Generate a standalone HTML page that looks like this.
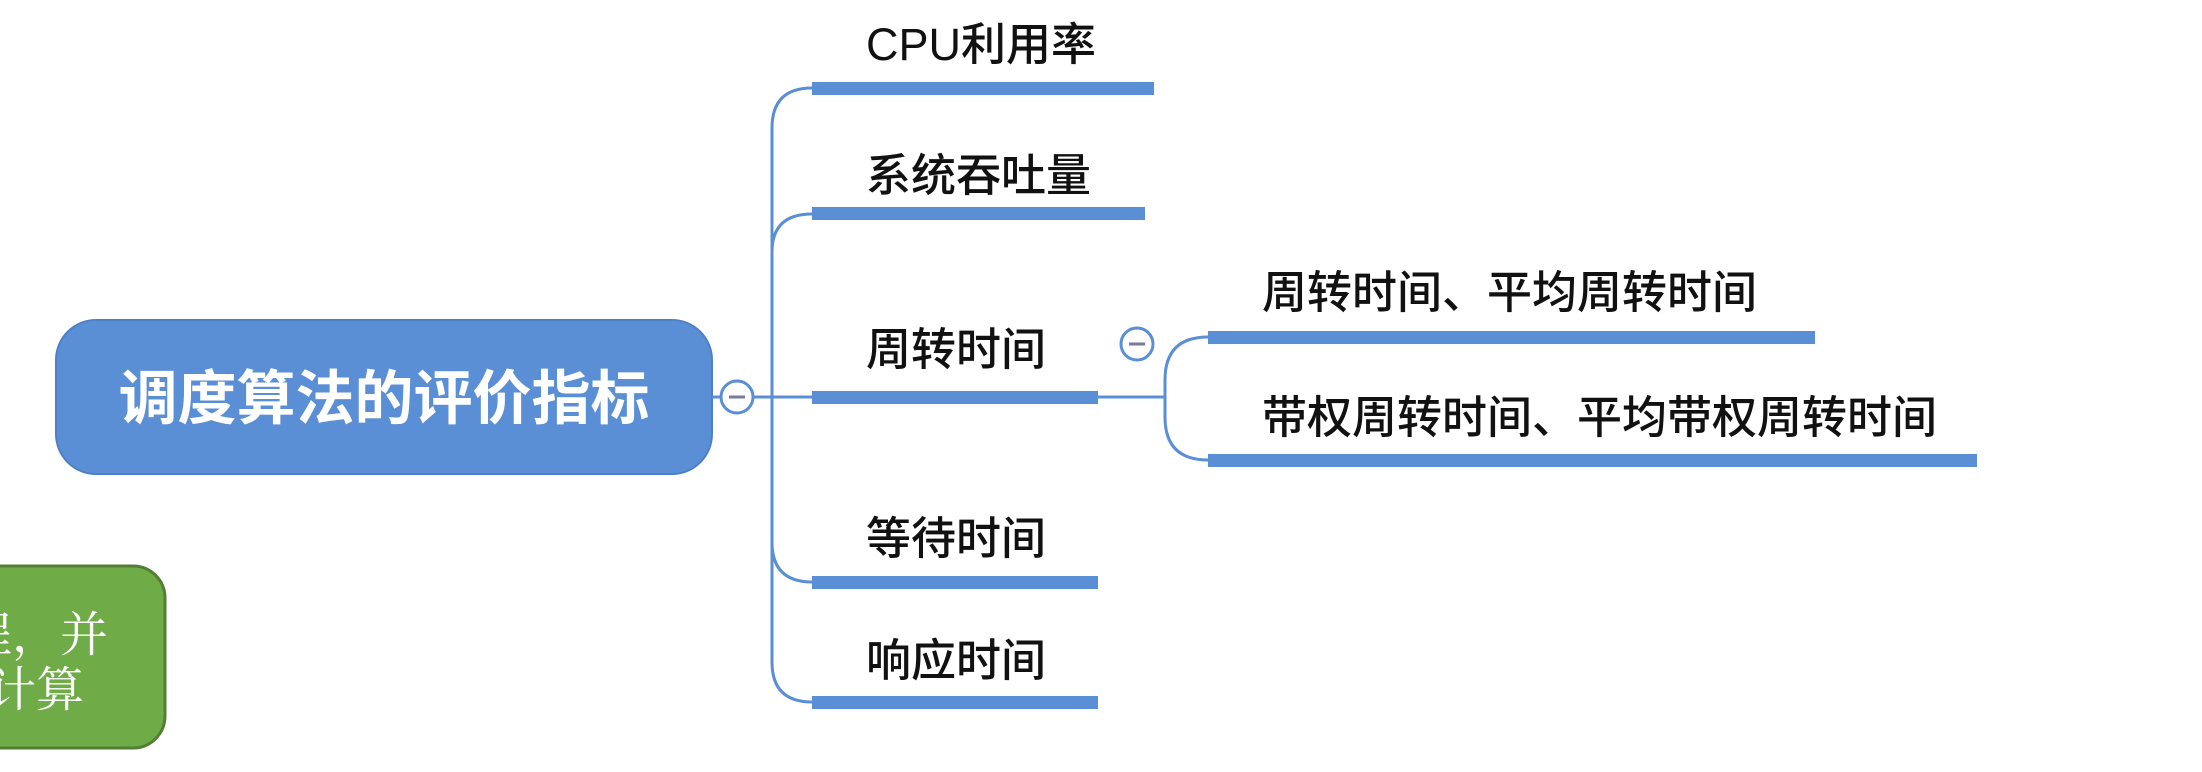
<!DOCTYPE html>
<html><head><meta charset="utf-8"><style>
html,body{margin:0;padding:0;background:#fff;}
body{width:2202px;height:772px;overflow:hidden;position:relative;}
svg{position:absolute;left:0;top:0;}
text{font-family:"Liberation Sans","Noto Sans CJK SC",sans-serif;}
</style></head><body>
<svg width="2202" height="772" viewBox="0 0 2202 772" xmlns="http://www.w3.org/2000/svg">
<rect x="-30" y="566" width="195" height="182" rx="32" fill="#6fac47" stroke="#527f33" stroke-width="3"/>
<text x="108" y="651" text-anchor="end" font-size="48" fill="#fff" style="font-family:'Liberation Serif','Noto Serif CJK SC',serif">程，并</text>
<text x="84" y="706" text-anchor="end" font-size="48" fill="#fff" style="font-family:'Liberation Serif','Noto Serif CJK SC',serif">计算</text>

<rect x="56" y="320" width="656" height="154" rx="40" fill="#5a8fd6" stroke="#4d80c6" stroke-width="2"/>
<text x="384" y="419" text-anchor="middle" font-size="59" font-weight="bold" fill="#fff">调度算法的评价指标</text>

<g fill="none" stroke="#5b8fd5" stroke-width="3">
<line x1="712" y1="397" x2="812" y2="397"/>
<path d="M812 88 Q772 88 772 128 L772 662 Q772 702 812 702"/>
<path d="M772 252 Q772 214 812 214"/>
<path d="M772 542 Q772 582 812 582"/>
<line x1="1098" y1="397" x2="1165" y2="397"/>
<path d="M1208 337 Q1165 337 1165 380 L1165 417 Q1165 460 1208 460"/>
</g>
<circle cx="737" cy="397" r="16" fill="#fff" stroke="#5b8fd5" stroke-width="3"/>
<line x1="729" y1="397" x2="745" y2="397" stroke="#7a7aa0" stroke-width="3"/>
<circle cx="1137" cy="344" r="16" fill="#fff" stroke="#5b8fd5" stroke-width="3"/>
<line x1="1129" y1="344" x2="1145" y2="344" stroke="#7a7aa0" stroke-width="3"/>

<g fill="#5b8fd5">
<rect x="812" y="82" width="342" height="13"/>
<rect x="812" y="207" width="333" height="13"/>
<rect x="812" y="391" width="286" height="13"/>
<rect x="812" y="576" width="286" height="13"/>
<rect x="812" y="696" width="286" height="13"/>
<rect x="1208" y="331" width="607" height="13"/>
<rect x="1208" y="454" width="769" height="13"/>
</g>
<g font-size="45" font-weight="500" fill="#111">
<text x="866" y="60">CPU利用率</text>
<text x="866" y="191">系统吞吐量</text>
<text x="866" y="365">周转时间</text>
<text x="866" y="554">等待时间</text>
<text x="866" y="676">响应时间</text>
<text x="1262" y="308">周转时间、平均周转时间</text>
<text x="1262" y="433">带权周转时间、平均带权周转时间</text>
</g>
</svg>
</body></html>
